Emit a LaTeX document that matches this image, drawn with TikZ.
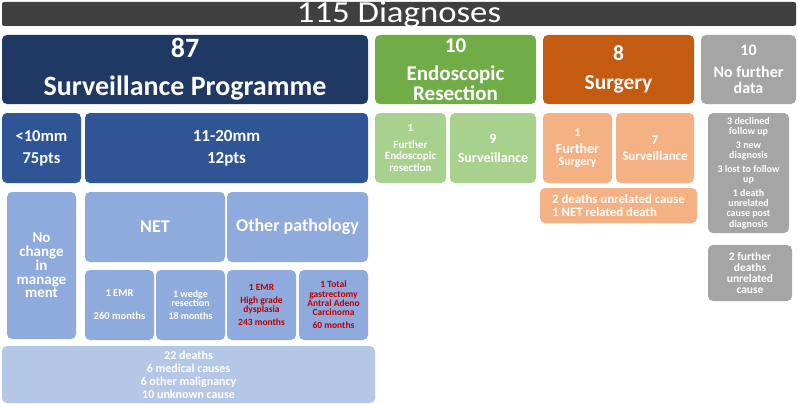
\documentclass[tikz,border=0pt]{standalone}
\usepackage{fontspec}
\setmainfont{Carlito}
\newfontfamily\titleFont[FakeStretch=1.14]{Carlito}

\definecolor{titleGrey}{HTML}{404040}
\definecolor{navyBlue}{HTML}{1F3864}
\definecolor{midBlue}{HTML}{2F5597}
\definecolor{paleBlue}{HTML}{8FAADC}
\definecolor{palerBlue}{HTML}{B4C7E7}
\definecolor{darkGreen}{HTML}{70AD47}
\definecolor{lightGreen}{HTML}{A9D18E}
\definecolor{darkOrange}{HTML}{C55A11}
\definecolor{lightOrange}{HTML}{F4B183}
\definecolor{noDataGrey}{HTML}{A5A5A5}
\definecolor{redText}{HTML}{C00000}

\newcommand\fs[2]{\bfseries\fontsize{#1}{#2}\selectfont}

\tikzset{
  box/.style={anchor=north west, rounded corners=5pt, inner sep=1pt,
    outer sep=0pt, align=center, text=white, font=\bfseries},
  navyBox/.style={box, fill=navyBlue},
  midBox/.style={box, fill=midBlue},
  paleBox/.style={box, fill=paleBlue},
  palerBox/.style={box, fill=palerBlue},
  greenBox/.style={box, fill=darkGreen},
  lightGreenBox/.style={box, fill=lightGreen},
  orangeBox/.style={box, fill=darkOrange},
  lightOrangeBox/.style={box, fill=lightOrange},
  greyBox/.style={box, fill=noDataGrey},
  redNote/.style={text=redText}
}

\begin{document}
\begin{tikzpicture}[x=1pt,y=-1pt]
  \useasboundingbox[fill=white] (0,0) rectangle (798,404);

  % title bar
  \node[box, fill=titleGrey, rounded corners=2pt, minimum width=794,
    minimum height=24] (titleBar) at (2,2) {};
  \node[anchor=base, text=white, inner sep=0pt,
    font=\titleFont\fontsize{30.5}{31}\selectfont] (titleText) at (399,22.5)
    {115 Diagnoses};

  % top row
  \node[navyBox, minimum width=366, minimum height=69, font=\fs{28}{38}]
    (survProg) at (2,35) {87\\Surveillance Programme};
  \node[greenBox, minimum width=161, minimum height=69, font=\fs{21}{20}]
    (endoRes) at (375,35) {10\\[8pt]Endoscopic\\Resection};
  \node[orangeBox, minimum width=151, minimum height=69, font=\fs{21.5}{29}]
    (surgery) at (543,35) {8\\Surgery};
  \node[greyBox, minimum width=95, minimum height=69, font=\fs{16}{16}]
    (noFurther) at (701,35) {10\\[6pt]No further\\data};

  % second row
  \node[midBox, minimum width=79, minimum height=70, font=\fs{16.5}{22}]
    (lessTen) at (2,113) {<10mm\\75pts};
  \node[midBox, minimum width=283, minimum height=70, font=\fs{17}{22}]
    (elevenTwenty) at (85,113) {11-20mm\\12pts};
  \node[lightGreenBox, minimum width=71, minimum height=70, font=\fs{11}{11.5}]
    (endoFurther) at (375,113) {1\\[5pt]Further\\Endoscopic\\resection};
  \node[lightGreenBox, minimum width=86, minimum height=70, font=\fs{14}{19}]
    (endoSurv) at (450,113) {9\\Surveillance};
  \node[lightOrangeBox, minimum width=69, minimum height=70, font=\fs{12}{12}]
    (furtherSurg) at (543,113) {1\\[5pt]{\fs{14}{12}Further}\\Surgery};
  \node[lightOrangeBox, minimum width=78, minimum height=70, font=\fs{13}{16}]
    (surgSurv) at (616,113) {7\\Surveillance};
  \node[lightOrangeBox, minimum width=157, minimum height=35, align=left,
    font=\fs{12.8}{13}] (surgDeaths) at (540,188)
    {2 deaths unrelated cause\\1 NET related death};
  \node[greyBox, minimum width=81, minimum height=120, font=\fs{10}{10.3}]
    (noDataNotes) at (708,113)
    {3 declined\\follow up\\[3.5pt]3 new\\diagnosis\\[3.5pt]3 lost to follow\\up\\[3.5pt]1 death\\unrelated\\cause post\\diagnosis};
  \node[greyBox, minimum width=84, minimum height=56, font=\fs{11.5}{11.3}]
    (noDataDeaths) at (708,245) {2 further\\deaths\\unrelated\\cause};

  % third row
  \node[paleBox, minimum width=69, minimum height=147, font=\fs{15}{13.8}]
    (noChange) at (7,192) {No\\change\\in\\manage\\ment};
  \node[paleBox, minimum width=140, minimum height=70, font=\fs{18}{18}]
    (netBox) at (85,192) {NET};
  \node[paleBox, minimum width=141, minimum height=70, font=\fs{18}{18}]
    (otherPath) at (227,192) {Other pathology};

  % fourth row
  \node[paleBox, minimum width=69, minimum height=70, font=\fs{10.5}{23}]
    (netEmr) at (85,270) {1 EMR\\260 months};
  \node[paleBox, minimum width=69, minimum height=70, font=\fs{10}{9.5}]
    (netWedge) at (156,270) {1 wedge\\resection\\[3pt]18 months};
  \node[paleBox, redNote, minimum width=69, minimum height=70, font=\fs{9.5}{9.8}]
    (otherEmr) at (227,270) {1 EMR\\[3pt]High grade\\dysplasia\\[3pt]243 months};
  \node[paleBox, redNote, minimum width=69, minimum height=70, font=\fs{9.5}{9.3}]
    (otherGast) at (299,270)
    {1 Total\\gastrectomy\\Antral Adeno\\Carcinoma\\[3.5pt]60 months};

  % deaths
  \node[palerBox, minimum width=373, minimum height=57, font=\fs{12}{13}]
    (survDeaths) at (2,346)
    {22 deaths\\6 medical causes\\6 other malignancy\\10 unknown cause};
\end{tikzpicture}
\end{document}
